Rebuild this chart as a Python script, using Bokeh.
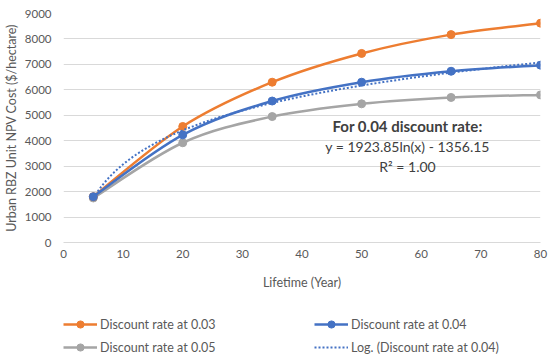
from bokeh.plotting import figure
from bokeh.layouts import column
from bokeh.models import Legend, LegendItem, ColumnDataSource, Label, SingleIntervalTicker, Range1d
from bokeh.embed import file_html
from bokeh.resources import INLINE
import numpy as np

lifetime = [5, 20, 35, 50, 65, 80]
rate_003 = [1800, 4560, 6300, 7430, 8170, 8620]
rate_004 = [1800, 4230, 5560, 6300, 6730, 6970]
rate_005 = [1750, 3920, 4950, 5450, 5700, 5800]
trend_a = 1923.85
trend_b = -1356.15
series_names = ["Discount rate at 0.03", "Discount rate at 0.04", "Discount rate at 0.05"]
trend_name = "Log. (Discount rate at 0.04)"
colors = ["#ED7D31", "#4472C4", "#A5A5A5"]
FONT = "Lato"
TXT = "#595959"

p = figure(width=548, height=294, output_backend="svg", toolbar_location=None,
           x_range=Range1d(0, 80), y_range=Range1d(0, 9000),
           min_border_left=63, min_border_right=8, min_border_top=13, min_border_bottom=52)
p.outline_line_color = None
p.background_fill_color = "white"
p.xgrid.grid_line_color = None
p.ygrid.grid_line_color = "#D9D9D9"
p.ygrid.grid_line_width = 1
p.xaxis.ticker = SingleIntervalTicker(interval=10)
p.yaxis.ticker = SingleIntervalTicker(interval=1000)
for ax in (p.xaxis, p.yaxis):
    ax.major_tick_line_color = None
    ax.minor_tick_line_color = None
    ax.major_tick_out = 0
    ax.major_tick_in = 0
    ax.minor_tick_out = 0
    ax.major_label_text_font = FONT
    ax.major_label_text_font_size = "11.5px"
    ax.major_label_text_color = TXT
    ax.axis_label_text_font = FONT
    ax.axis_label_text_font_size = "12.5px"
    ax.axis_label_text_color = TXT
    ax.axis_label_text_font_style = "normal"
p.yaxis.axis_line_color = None
p.xaxis.axis_line_color = "#D9D9D9"
p.xaxis.axis_label = "Lifetime (Year)"
p.yaxis.axis_label = "Urban RBZ Unit NPV Cost ($/hectare)"
p.xaxis.major_label_standoff = 7
p.xaxis.axis_label_standoff = 14
p.yaxis.major_label_standoff = 12
p.yaxis.axis_label_standoff = 3


def bezier_src(xs, ys):
    x = np.array(xs, float); y = np.array(ys, float)
    n = len(x)
    d = dict(x0=[], y0=[], x1=[], y1=[], cx0=[], cy0=[], cx1=[], cy1=[])
    for i in range(n - 1):
        i0 = max(i - 1, 0); i3 = min(i + 2, n - 1)
        d["x0"].append(x[i]); d["y0"].append(y[i])
        d["x1"].append(x[i + 1]); d["y1"].append(y[i + 1])
        d["cx0"].append(x[i] + (x[i + 1] - x[i0]) / 6); d["cy0"].append(y[i] + (y[i + 1] - y[i0]) / 6)
        d["cx1"].append(x[i + 1] - (x[i3] - x[i]) / 6); d["cy1"].append(y[i + 1] - (y[i3] - y[i]) / 6)
    return ColumnDataSource(d)


series = {0: rate_003, 1: rate_004, 2: rate_005}
for idx in (2, 0, 1):
    c = colors[idx]
    vals = series[idx]
    p.bezier(x0="x0", y0="y0", x1="x1", y1="y1", cx0="cx0", cy0="cy0", cx1="cx1", cy1="cy1",
             source=bezier_src(lifetime, vals), line_color=c, line_width=2.5)
    p.scatter(lifetime, vals, size=8, fill_color=c, line_color=c)

# logarithmic trendline for 0.04
tx = np.linspace(lifetime[0], lifetime[-1], 200)
ty = trend_a * np.log(tx) + trend_b
p.line(tx, ty, line_color="#4472C4", line_width=2, line_dash="2 2")

p.add_layout(Label(x=57.7, y=4560, text="For 0.04 discount rate:", text_align="center", text_baseline="middle",
                   text_font=FONT, text_font_size="15px", text_font_style="bold", text_color="#404040"))
p.add_layout(Label(x=57.7, y=3774, text="y = 1923.85ln(x) - 1356.15", text_align="center", text_baseline="middle",
                   text_font=FONT, text_font_size="14px", text_color="#404040"))
p.add_layout(Label(x=57.7, y=2987, text="R² = 1.00", text_align="center", text_baseline="middle",
                   text_font=FONT, text_font_size="14px", text_color="#404040"))

# legend strip (own figure so the legend is not clipped)
lf = figure(width=548, height=62, output_backend="svg", toolbar_location=None,
            x_range=Range1d(0, 1), y_range=Range1d(0, 1),
            x_axis_location=None, y_axis_location=None,
            min_border_left=0, min_border_right=0, min_border_top=0, min_border_bottom=0)
lf.grid.visible = False
lf.outline_line_color = None

rend = {}
for idx in (0, 1, 2):
    c = colors[idx]
    vals = series[idx]
    ln = lf.line(lifetime[:1], vals[:1], line_color=c, line_width=2.5)
    sc = lf.scatter(lifetime[:1], vals[:1], size=8, fill_color=c, line_color=c)
    rend[idx] = [ln, sc]
tr = lf.line(lifetime[:1], rate_004[:1], line_color="#4472C4", line_width=2, line_dash="2 2")

items = [
    LegendItem(label=series_names[0], renderers=rend[0]),
    LegendItem(label=series_names[2], renderers=rend[2]),
    LegendItem(label=series_names[1], renderers=rend[1]),
    LegendItem(label=trend_name, renderers=[tr]),
]
legend = Legend(items=items, ncols=2, orientation="vertical", location=(0, 0),
                glyph_width=34, glyph_height=18, label_height=18, label_standoff=3,
                label_width=209, spacing=5, padding=0, margin=0,
                label_text_font=FONT, label_text_font_size="12.5px", label_text_color=TXT,
                border_line_color=None, background_fill_alpha=0)
lf.add_layout(legend, "center")

layout = column(p, lf, spacing=0)
open("out.html", "w").write(file_html(layout, INLINE))
